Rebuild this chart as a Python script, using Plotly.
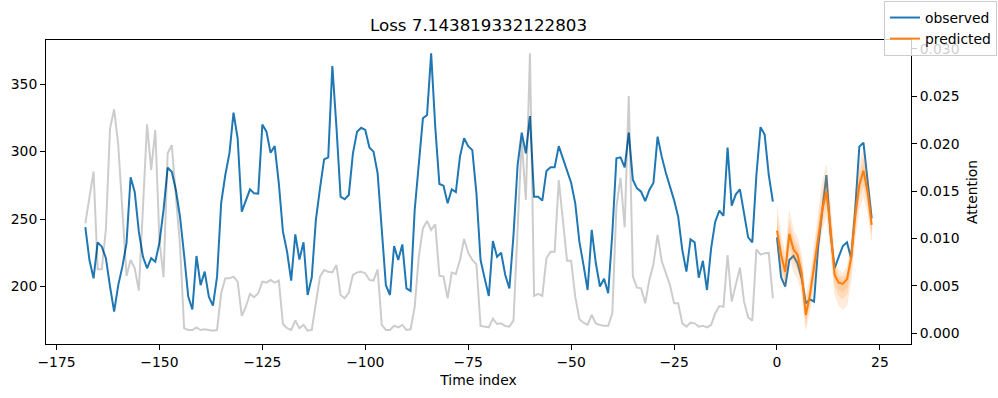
import plotly.graph_objects as go

# ---------------- data ----------------
time_obs = list(range(-168, 0))
time_pred = list(range(0, 24))

observed_history = [
    244, 219.6, 206, 232.7, 229.5, 221, 200, 181.4, 201, 214.7,
    232, 280.9, 270, 240.6, 222, 213.5, 221, 218.4, 232.5, 256.7,
    288, 285, 271.5, 251.7, 223.3, 192.5, 183, 222.6, 201, 211,
    192.5, 185.8, 207.3, 262, 282.6, 298.6, 328.8, 309.8, 255.4, 263,
    272, 269,
    268.8, 320, 314.7, 299, 304, 276.4, 240.6, 225.8, 204.3, 238.6,
    220, 232.7, 193.7, 206.8, 249.3, 272.7, 294.2, 295.7, 363.3, 318,
    266.5, 264.6, 267.8, 298.6, 314.7, 317.6, 316, 303, 299.9, 283.8,
    241.9, 201, 193.7, 230, 219.6, 231.2, 198.6, 196.7, 256.7, 291.2,
    324.6,
    327, 372.7, 318, 275.9, 274.7, 261.6, 272, 270, 296.2, 309.8,
    304, 301, 269, 219.6, 206, 193, 233.7, 222, 225, 208.5,
    198.6, 238, 290, 314, 298.6, 326.3, 266.5, 266.5, 263.6, 285.6,
    288.3, 288.3, 304, 295, 284.3, 276.9, 261.6, 233.2, 216, 197.4,
    241.9,
    217.2, 200, 205.8, 195, 239.4, 295, 295.7, 288.3, 314, 278.9,
    272.7, 270.2, 263.3, 271.5, 276.9, 311, 296.2, 284.3, 274, 264,
    251.7, 227, 211, 235, 232.7, 206.5, 219, 197.4, 228.3, 248,
    256.2, 252.4, 303, 259.9, 268.3, 272, 254.2, 236.4, 232.7, 282.6,
    318, 312.5, 282.6, 262.8,
]

attention = [
    0.0116, 0.01442, 0.01706, 0.00675, 0.00675, 0.011, 0.0216, 0.02363, 0.01986, 0.013,
    0.00605, 0.00773, 0.00686, 0.0045, 0.01371, 0.02205, 0.01723, 0.02145, 0.00984, 0.00591,
    0.019, 0.01986, 0.01442, 0.00932, 0.00053, 0.00035, 0.00035, 0.00063, 0.00035, 0.00042,
    0.00035, 0.00028, 0.00035, 0.00422, 0.0058, 0.0058, 0.00598, 0.00545, 0.00183, 0.0028,
    0.00415, 0.0038,
    0.00422, 0.00545, 0.00535, 0.00563, 0.00535, 0.00556, 0.00098, 0.00053, 0.00035, 0.00134,
    0.00053, 0.00088, 0.00028, 0.00035, 0.00317, 0.00598, 0.00668, 0.0065, 0.00643, 0.0072,
    0.00404, 0.00369, 0.00429, 0.00615, 0.00643, 0.0065, 0.00633, 0.00563, 0.00556, 0.00675,
    0.00088, 0.00035, 0.00035, 0.0008, 0.00063, 0.00088, 0.00035, 0.00042, 0.0028, 0.00808,
    0.01108,
    0.01185, 0.0109, 0.0115, 0.00608, 0.00598, 0.00369, 0.0064, 0.00626, 0.00773, 0.00995,
    0.0085, 0.00773, 0.00728, 0.00077, 0.0007, 0.00063, 0.00154, 0.00098, 0.00105, 0.00077,
    0.0007, 0.00134, 0.011, 0.0204, 0.01406, 0.02954, 0.00394, 0.00415, 0.00394, 0.00791,
    0.00861, 0.00861, 0.01617, 0.01195, 0.00766, 0.00766, 0.00386, 0.00148, 0.00112, 0.00088,
    0.00193,
    0.00105, 0.00088, 0.0008, 0.0008, 0.00211, 0.01336, 0.01641, 0.01118, 0.02503, 0.00598,
    0.00481, 0.00474, 0.00317, 0.00563, 0.00731, 0.01037, 0.00763, 0.0064, 0.0051, 0.00317,
    0.00317, 0.00105, 0.0007, 0.00112, 0.00105, 0.0007, 0.0008, 0.00063, 0.00088, 0.00211,
    0.00288, 0.0028, 0.00826, 0.00334, 0.0051, 0.00692, 0.00334, 0.00168, 0.00134, 0.00886,
    0.0083, 0.00844, 0.00848, 0.0037,
]

observed_future = [
    236.4, 206.8, 200, 219.6, 222.6, 217.2, 206, 187.5, 190.5, 188.8,
    229.5, 256.7, 282.6, 239.4, 213.5, 222, 230, 232.7, 221, 256.7,
    303.6, 306.5, 278.9, 250.5,
]

predicted = [
    241.4, 223.3, 211, 238.9, 227.5, 223.3, 209.8, 178.9, 193.7, 214.7,
    238, 256.7, 270.2, 243.1, 208.5, 202.8, 201.9, 205.3, 221, 251.7,
    275.2, 285.8, 270.2, 245.6,
]

q02 = [228, 211, 198, 224, 211, 206, 195, 168, 182, 202, 224, 242, 253, 227, 195, 186, 183, 186, 204, 236, 258, 267, 255, 234]
q10 = [233, 216, 203, 230, 218, 213, 201, 172, 187, 207, 230, 248, 260, 233, 201, 193, 191, 194, 211, 242, 265, 275, 261, 239]
q25 = [237, 219, 207, 234, 223, 218, 205, 176, 190, 211, 234, 252, 265, 238, 205, 198, 196, 199, 216, 247, 270, 280, 265, 242]
q75 = [247, 227, 215, 244, 232, 227, 214, 183, 198, 219, 243, 263, 276, 248, 212, 206, 204, 208, 225, 256, 280, 290, 274, 250]
q90 = [252, 231, 219, 249, 236, 231, 218, 187, 201, 223, 248, 269, 282, 254, 216, 208, 207, 210, 228, 261, 285, 295, 278, 253]
q98 = [260, 237, 224, 256, 242, 236, 223, 192, 206, 229, 255, 277, 290, 261, 220, 212, 210, 214, 233, 267, 291, 301, 284, 258]

x_ticks = [-175, -150, -125, -100, -75, -50, -25, 0, 25]
x_ticklabels = ["\u2212175", "\u2212150", "\u2212125", "\u2212100", "\u221275", "\u221250", "\u221225", "0", "25"]
y_ticks = [200, 250, 300, 350]
y2_ticks = [0.0, 0.005, 0.010, 0.015, 0.020, 0.025, 0.030]

# ---------------- styling ----------------
BLUE = "#1f77b4"
ORANGE = "#ff7f0e"
FONT = "DejaVu Sans"
FS = 13.9
PLOT_L, PLOT_R = 46, 911

fig = go.Figure()

fig.add_trace(go.Scatter(x=time_obs, y=observed_history, mode="lines",
                         line=dict(color=BLUE, width=2), name="observed"))
fig.add_trace(go.Scatter(x=time_pred, y=observed_future, mode="lines",
                         line=dict(color=BLUE, width=2), showlegend=False))
fig.add_trace(go.Scatter(x=time_pred, y=predicted, mode="lines",
                         line=dict(color=ORANGE, width=2), name="predicted"))

for lo, hi in [(q02, q98), (q10, q90), (q25, q75)]:
    fig.add_trace(go.Scatter(
        x=time_pred + time_pred[::-1], y=hi + lo[::-1],
        mode="lines", fill="toself", fillcolor="rgba(255,127,14,0.15)",
        line=dict(width=0.5, color="rgba(255,127,14,0.15)"),
        showlegend=False, hoverinfo="skip"))

fig.add_trace(go.Scatter(x=time_obs, y=attention, mode="lines", yaxis="y2",
                         line=dict(color="rgba(0,0,0,0.2)", width=2),
                         showlegend=False))

axis_common = dict(showgrid=False, zeroline=False, showline=True, linecolor="black",
                   linewidth=1, ticks="outside", ticklen=5, tickwidth=1,
                   tickcolor="black", tickfont=dict(family=FONT, size=FS, color="black"))

fig.update_layout(
    width=998, height=398,
    margin=dict(l=PLOT_L, r=998 - PLOT_R, t=40, b=54, autoexpand=False),
    paper_bgcolor="white", plot_bgcolor="white",
    font=dict(family=FONT, size=FS, color="black"),
    title=dict(text="Loss 7.143819332122803", x=0.5, xref="paper", xanchor="center",
               y=1 - 25 / 398, yref="container", yanchor="middle",
               font=dict(family=FONT, size=16.7, color="black")),
    xaxis=dict(range=[-177.55, 32.55], tickvals=x_ticks, ticktext=x_ticklabels,
               mirror=True,
               title=dict(text="Time index", standoff=6,
                          font=dict(family=FONT, size=FS, color="black")),
               **axis_common),
    yaxis=dict(range=[157.4, 382.6], tickvals=y_ticks, mirror=True, **axis_common),
    yaxis2=dict(range=[-0.00113, 0.03094], tickvals=y2_ticks, tickformat=".3f",
                overlaying="y", side="right", **axis_common),
    annotations=[dict(text="Attention", textangle=-90, showarrow=False,
                      xref="paper", yref="paper",
                      x=(972 - PLOT_L) / (PLOT_R - PLOT_L), y=0.5,
                      xanchor="center", yanchor="middle",
                      font=dict(family=FONT, size=FS, color="black"))],
    legend=dict(x=997 / 998, xref="container", xanchor="right",
                y=1 - 1 / 398, yref="container", yanchor="top",
                bgcolor="rgba(255,255,255,0.8)", bordercolor="#cccccc", borderwidth=1,
                font=dict(family=FONT, size=FS, color="black"),
                tracegroupgap=0, itemwidth=30),
    showlegend=True,
)

fig.write_html("out.html", config={"displayModeBar": False},
               post_script="document.body.style.margin='0';")
